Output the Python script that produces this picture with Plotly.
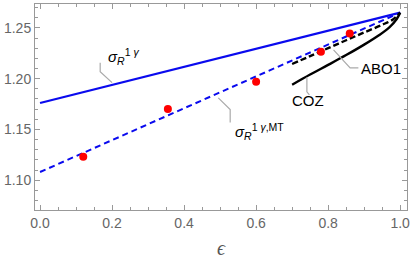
import plotly.graph_objects as go

# data
eps_line = [0.0, 1.0]
sigma_R = [1.176, 1.265]
sigma_R_MT = [1.108, 1.265]

abo1_x = [0.70, 0.75, 0.80, 0.85, 0.90, 0.95, 0.98, 1.0]
abo1_y = [1.2144, 1.2222, 1.2300, 1.2378, 1.2455, 1.2530, 1.2583, 1.2650]

coz_x = [0.70, 0.75, 0.80, 0.85, 0.90, 0.94, 0.97, 0.99, 1.0]
coz_y = [1.1940, 1.2040, 1.2135, 1.2232, 1.2335, 1.2425, 1.2505, 1.2585, 1.2650]

pts_x = [0.12, 0.355, 0.60, 0.78, 0.86]
pts_y = [1.1230, 1.1700, 1.1970, 1.2265, 1.2445]
pts_err = [0.002, 0.002, 0.003, 0.002, 0.002]

x_ticks = [0.0, 0.2, 0.4, 0.6, 0.8, 1.0]
x_tick_text = ["0.0", "0.2", "0.4", "0.6", "0.8", "1.0"]
y_ticks = [1.10, 1.15, 1.20, 1.25]
y_tick_text = ["1.10", "1.15", "1.20", "1.25"]

blue = "#0a0aee"
gray = "#999999"

fig = go.Figure()
fig.add_trace(go.Scatter(x=eps_line, y=sigma_R, mode="lines",
                         line=dict(color=blue, width=2.2)))
fig.add_trace(go.Scatter(x=eps_line, y=sigma_R_MT, mode="lines",
                         line=dict(color=blue, width=2, dash="6px,4px")))
fig.add_trace(go.Scatter(x=abo1_x, y=abo1_y, mode="lines", line_shape="spline",
                         line=dict(color="black", width=2.4, dash="6px,3px")))
fig.add_trace(go.Scatter(x=coz_x, y=coz_y, mode="lines", line_shape="spline",
                         line=dict(color="black", width=2.4)))
fig.add_trace(go.Scatter(x=pts_x, y=pts_y, mode="markers",
                         marker=dict(color="#ff0000", size=8),
                         error_y=dict(type="data", array=pts_err, color="#ff0000",
                                      thickness=3, width=0)))

# leader lines (gray)
leaders = [
    ([0.167, 0.167, 0.20], [1.2157, 1.2069, 1.1961]),
    ([0.495, 0.528, 0.528], [1.1810, 1.1696, 1.1569]),
    ([0.815, 0.861, 0.884], [1.2284, 1.2105, 1.2105]),
    ([0.741, 0.741, 0.748], [1.2013, 1.1870, 1.1840]),
]
for lx, ly in leaders:
    fig.add_trace(go.Scatter(x=lx, y=ly, mode="lines",
                             line=dict(color="#aaaaaa", width=1.2)))

font_txt = dict(family="Liberation Sans, Arial", size=15, color="black")
fig.add_annotation(x=0.232, y=1.2215, text="<i>σ</i><sub><i>R</i></sub><sup>1 <i>γ</i></sup>",
                   showarrow=False, font=font_txt)
fig.add_annotation(x=0.61, y=1.1475, text="<i>σ</i><sub><i>R</i></sub><sup>1 <i>γ</i>,MT</sup>",
                   showarrow=False, font=font_txt)
fig.add_annotation(x=0.947, y=1.2095, text="ABO1", showarrow=False, font=font_txt)
fig.add_annotation(x=0.743, y=1.1785, text="COZ", showarrow=False, font=font_txt)

axis_common = dict(showgrid=False, zeroline=False, showline=True, linecolor=gray,
                   linewidth=1, mirror="allticks", ticks="inside", ticklen=5,
                   tickcolor=gray, automargin=False,
                   tickfont=dict(family="Liberation Sans, Arial", size=14, color="#666666"))

fig.update_xaxes(range=[-0.014, 1.019], tickvals=x_ticks, ticktext=x_tick_text,
                 minor=dict(ticks="inside", ticklen=3, tickcolor=gray, dtick=0.05),
                 title=dict(text="<i>ϵ</i>", font=dict(family="Liberation Serif", size=20, color="#555555"),
                            standoff=12),
                 **axis_common)
fig.update_yaxes(range=[1.0706, 1.2735], tickvals=y_ticks, ticktext=y_tick_text,
                 minor=dict(ticks="inside", ticklen=3, tickcolor=gray, dtick=0.01),
                 **axis_common)

fig.update_layout(width=413, height=259, showlegend=False,
                  margin=dict(l=35, r=6, t=4, b=49),
                  plot_bgcolor="white", paper_bgcolor="white")
fig.write_html("out.html", config={"displayModeBar": False},
               post_script="document.body.style.margin='0';")
